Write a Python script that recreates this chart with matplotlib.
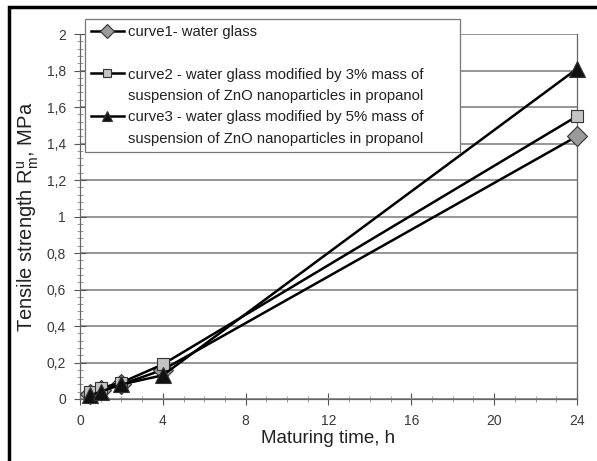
import matplotlib
matplotlib.use('Agg')
import matplotlib.pyplot as plt
from matplotlib.lines import Line2D
from matplotlib.patches import Rectangle
from matplotlib.ticker import MultipleLocator, FuncFormatter

plt.rcParams['font.family'] = ['Liberation Sans', 'DejaVu Sans']
plt.rcParams['mathtext.default'] = 'regular'

# maturing time, h
hours = [0.5, 1, 2, 4, 24]
# tensile strength, MPa
curve1 = [0.03, 0.05, 0.08, 0.16, 1.44]
curve2 = [0.04, 0.06, 0.09, 0.19, 1.55]
curve3 = [0.02, 0.04, 0.08, 0.13, 1.81]

labels = [
    ("curve1- water glass", None),
    ("curve2 - water glass modified by 3% mass of",
     "suspension of ZnO nanoparticles in propanol"),
    ("curve3 - water glass modified by 5% mass of",
     "suspension of ZnO nanoparticles in propanol"),
]
markers = ['D', 's', '^']
fills = ['#9a9a9a', '#c4c4c4', '#111111']
sizes = [10, 9, 11]

fig = plt.figure(figsize=(5.97, 4.61), dpi=100)
ax = fig.add_axes([0.1340, 0.1345, 0.8325, 0.7915])

handles = []
for y, m, fc, ms in zip([curve1, curve2, curve3], markers, fills, sizes):
    h, = ax.plot(hours, y, color='black', lw=1.8, marker=m, ms=ms,
                 markerfacecolor=fc, markeredgecolor='#333333', mew=0.8,
                 clip_on=False, zorder=3)
    handles.append(h)

ax.set_xlim(0, 24)
ax.set_ylim(0, 2)
ax.xaxis.set_major_locator(MultipleLocator(4))
ax.xaxis.set_minor_locator(MultipleLocator(1))
ax.yaxis.set_major_locator(MultipleLocator(0.2))
ax.yaxis.set_minor_locator(MultipleLocator(0.04))
ax.yaxis.set_major_formatter(FuncFormatter(
    lambda v, p: ('%.1f' % v).rstrip('0').rstrip('.').replace('.', ',')))
ax.tick_params(which='major', direction='inout', length=8, width=0.8,
               color='#555555', labelsize=10, labelcolor='#3a3a3a')
ax.tick_params(axis='x', which='major', pad=7)
ax.tick_params(axis='y', which='major', pad=6)
ax.tick_params(which='minor', direction='inout', length=4, width=0.6,
               color='#888888')
ax.grid(axis='y', which='major', color='#8c8c8c', lw=1.3)
ax.set_axisbelow(True)
for s in ax.spines.values():
    s.set_color('#666666')
    s.set_linewidth(0.9)
ax.spines['top'].set_visible(False)

ax.set_xlabel('Maturing time, h', fontsize=13.5, color='#222222', labelpad=1)
ax.set_ylabel('Tensile strength R$_m^u$, MPa', fontsize=14.5,
              color='#222222', labelpad=4)

blank = Line2D([], [], linestyle='none')
leg_handles, leg_labels = [], []
for h, (l1, l2) in zip(handles, labels):
    leg_handles.append(h)
    leg_labels.append(l1)
    leg_handles.append(blank)
    leg_labels.append(l2 if l2 else '')

leg = ax.legend(leg_handles, leg_labels, loc='upper left', mode='expand',
                bbox_to_anchor=(0.01, 1.042, 0.755, 0.0), fontsize=10.7,
                frameon=True, fancybox=False, framealpha=1,
                edgecolor='#777777', handlelength=2.2, handletextpad=0.3,
                labelspacing=0.5, borderpad=0.4, markerscale=0.7,
                borderaxespad=0)
leg.get_frame().set_linewidth(0.9)
for t in leg.get_texts():
    t.set_color('#222222')

# thick frame around the picture
fig.patches.append(Rectangle((9 / 597, -0.05), 1.1, (461 - 7) / 461 + 0.05,
                             transform=fig.transFigure, fill=False,
                             edgecolor='black', lw=2.5))

fig.savefig('out.png', dpi=100)
